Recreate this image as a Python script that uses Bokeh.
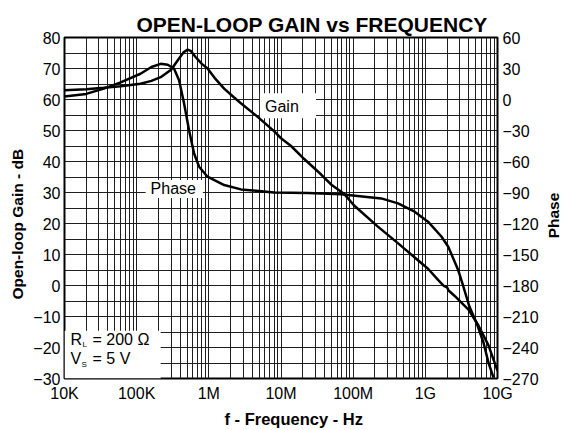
from math import pi
from bokeh.plotting import figure
from bokeh.models import Range1d, LinearAxis, FixedTicker, Label, BoxAnnotation, Title
from bokeh.embed import file_html
from bokeh.resources import INLINE

# ---- data -------------------------------------------------------------
gain_freq = [1e4, 2e4, 3.5e4, 6e4, 1.13e5, 1.6e5, 2.15e5, 3e5, 3.8e5, 4.5e5, 5.1e5,
             5.6e5, 6.5e5, 8e5, 9.6e5, 1.2e6, 1.63e6, 2.2e6, 2.78e6, 4.75e6, 8e6,
             1e7, 1.38e7, 2.1e7, 3.6e7, 5e7, 7.6e7, 1.03e8, 2.2e8, 4.2e8, 7e8,
             1.09e9, 1.5e9, 1.8e9, 2.0e9, 2.1e9, 2.53e9, 3.96e9, 5.44e9, 7.5e9, 1e10]
gain_db = [63.0, 63.3, 63.8, 64.3, 65.1, 66.0, 67.2, 69.6, 73.0, 75.3, 76.1,
           75.7, 73.8, 71.5, 70.0, 67.0, 63.5, 60.8, 58.8, 54.4, 49.8,
           47.5, 45.0, 40.8, 35.8, 32.5, 29.4, 25.8, 19.0, 13.6, 9.2,
           5.4, 1.8, -0.1, -0.6, -1.6, -3.3, -7.8, -12.9, -19.3, -27.5]

phase_freq = [1e4, 2e4, 3.5e4, 6e4, 1.13e5, 1.6e5, 2.15e5, 2.7e5, 3.3e5, 3.87e5,
              4.54e5, 5.32e5, 6.25e5, 7.33e5, 9.6e5, 1.63e6, 2.78e6, 8e6, 2.35e7,
              6.8e7, 2.45e8, 4.18e8, 7.1e8, 1.09e9, 1.67e9, 2.07e9, 2.84e9, 3.37e9,
              4.08e9, 5.11e9, 6.39e9, 7.5e9, 8.8e9]
phase_deg = [3.0, 5.4, 10.5, 16.5, 24.9, 31.5, 34.5, 33.6, 29.7, 18.6,
             -3.9, -29.7, -52.2, -65.1, -74.7, -82.8, -87.0, -90.0, -90.6,
             -91.8, -95.7, -100.5, -108.6, -118.2, -132.6, -142.2, -164.7, -181.2,
             -200.4, -216.0, -235.2, -254.7, -269.1]

x_ticks = [10**4, 10**5, 10**6, 10**7, 10**8, 10**9, 10**10]
x_tick_labels = ["10K", "100K", "1M", "10M", "100M", "1G", "10G"]
gain_ticks = list(range(-30, 81, 10))
phase_ticks = list(range(-270, 61, 30))

FONT = "Liberation Sans"
GRID = "#1e1e1e"

p = figure(width=565, height=430, x_axis_type="log",
           x_range=Range1d(1e4, 1e10), y_range=Range1d(-30, 80),
           output_backend="svg", toolbar_location=None,
           min_border_left=64, min_border_right=68,
           min_border_top=37, min_border_bottom=51)
p.extra_y_ranges = {"phase": Range1d(-270, 60)}
p.title.standoff = 0

minor_x = [m * 10**d for d in range(4, 10) for m in range(2, 10)]
p.xaxis.ticker = FixedTicker(ticks=x_ticks, minor_ticks=minor_x)
p.xaxis.major_label_overrides = {t: l for t, l in zip(x_ticks, x_tick_labels)}
p.yaxis.ticker = FixedTicker(ticks=gain_ticks, minor_ticks=list(range(-25, 80, 10)))

ax_r = LinearAxis(y_range_name="phase", ticker=FixedTicker(ticks=phase_ticks))
p.add_layout(ax_r, "right")

for ax in [p.xaxis[0], p.yaxis[0], ax_r]:
    ax.axis_line_color = None
    ax.major_tick_line_color = None
    ax.minor_tick_line_color = None
    ax.major_tick_out = 0
    ax.minor_tick_out = 0
    ax.major_label_text_font = FONT
    ax.major_label_text_font_size = "16px"
    ax.major_label_text_color = "black"
p.xaxis.major_label_standoff = 6
p.yaxis.major_label_standoff = 4
ax_r.major_label_standoff = 5

for g in [p.xgrid[0], p.ygrid[0]]:
    g.grid_line_color = GRID
    g.grid_line_width = 1
    g.minor_grid_line_color = GRID
    g.minor_grid_line_width = 1

p.outline_line_color = "black"
p.outline_line_width = 2
p.background_fill_color = "white"
p.border_fill_color = "white"

# chart title, placed in the top panel
p.add_layout(Label(x=136, y=24, x_units="canvas", y_units="canvas",
                   text="OPEN-LOOP GAIN vs FREQUENCY", text_font=FONT,
                   text_font_size="21px", text_font_style="bold", text_color="black",
                   text_align="left", text_baseline="alphabetic"), "above")
p.add_layout(Title(text="f - Frequency - Hz", align="left", offset=160, standoff=6,
                   text_font=FONT, text_font_size="16.5px", text_font_style="bold",
                   text_color="black"), "below")
p.add_layout(Title(text="Open-loop Gain - dB", align="left", offset=79, standoff=9,
                   text_font=FONT, text_font_size="15.5px", text_font_style="bold",
                   text_color="black"), "left")
# right-hand "Phase" title, reading upwards, placed in the right panel
p.add_layout(Label(x=553, y=215, x_units="canvas", y_units="canvas", angle=pi / 2,
                   text="Phase", text_font=FONT, text_font_size="15.5px",
                   text_font_style="bold", text_color="black",
                   text_align="center", text_baseline="middle"), "right")

# white boxes behind the in-plot texts
for l, r, b, t in [(5.1e6, 3.06e7, 53.95, 62.0),
                   (1.33e5, 8.26e5, 28.2, 34.0),
                   (1e4, 2.15e5, -30, -14.6)]:
    p.add_layout(BoxAnnotation(left=l, right=r, bottom=b, top=t, fill_color="white",
                               fill_alpha=1, line_color=None, level="underlay"))

p.line(gain_freq, gain_db, line_color="black", line_width=2.5)
p.line(phase_freq, phase_deg, y_range_name="phase", line_color="black", line_width=2.5)

def lab(text, x, y, size="16px", **kw):
    p.add_layout(Label(x=x, y=y, text=text, text_font=FONT, text_font_size=size,
                       text_color="black", **kw))

lab("Gain", 6.0e6, 54.9)
lab("Phase", 1.56e5, 28.6)
# R_L = 200 Ohm / V_S = 5 V
lab("R", 1e4, -30, x_offset=6, y_offset=31)
lab("L", 1e4, -30, size="8px", x_offset=18, y_offset=29.5)
lab("= 200 \u03a9", 1e4, -30, x_offset=28, y_offset=31)
lab("V", 1e4, -30, x_offset=6, y_offset=11.5)
lab("S", 1e4, -30, size="8px", x_offset=17, y_offset=10)
lab("= 5 V", 1e4, -30, x_offset=28, y_offset=11.5)

open("out.html", "w").write(file_html(p, INLINE))
